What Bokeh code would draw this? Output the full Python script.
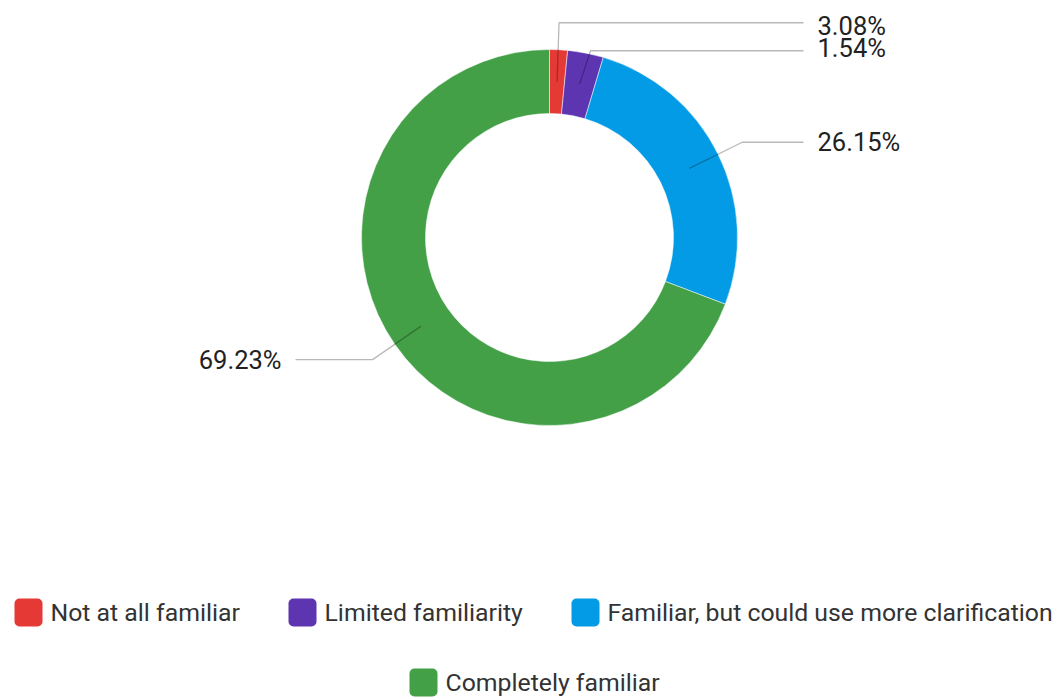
import math
from bokeh.plotting import figure
from bokeh.models import Range1d
from bokeh.core.properties import value
from bokeh.embed import file_html
from bokeh.resources import INLINE

categories = ["Not at all familiar", "Limited familiarity",
              "Familiar, but could use more clarification", "Completely familiar"]
percents = [1.54, 3.08, 26.15, 69.23]
colors = ["#e53935", "#5e35b1", "#039be5", "#43a047"]
# the reference draws the two small labels crossed: row of slice i shows value of slice label_src[i]
label_src = [1, 0, 2, 3]

W, H = 1057, 698
CX, CY = 549, 237          # centre in pixel coords (y down)
R_OUT, R_IN = 188, 124
R_MID, R_ELB = 156, 215
X_RIGHT, X_LEFT = 803, 295
FONT = "Roboto"
FS_LAB = "25.5px"
FS_LEG = "24.8px"

def Y(py):
    return H - py

p = figure(width=W, height=H, x_range=Range1d(0, W), y_range=Range1d(0, H),
           min_border=0, outline_line_color=None, toolbar_location=None,
           output_backend="svg", background_fill_color="white")
p.axis.visible = False
p.grid.visible = False

total = sum(percents)
cum = 0.0
starts, ends, mids = [], [], []
for v in percents:
    a0 = math.pi / 2 - 2 * math.pi * cum / total
    cum += v
    a1 = math.pi / 2 - 2 * math.pi * cum / total
    starts.append(a0)
    ends.append(a1)
    mids.append((a0 + a1) / 2)

p.annular_wedge(x=[CX] * 4, y=[Y(CY)] * 4, inner_radius=R_IN, outer_radius=R_OUT,
                start_angle=starts, end_angle=ends, direction="clock",
                fill_color=colors, line_color="white", line_width=0.5)

# leader lines
rows = []
for m in mids:
    ex = CX + R_ELB * math.cos(m)
    ey = Y(CY) + R_ELB * math.sin(m)
    rows.append([ex, ey])
# collision avoidance on right side (top-down)
right = [i for i in range(4) if math.cos(mids[i]) >= 0]
right.sort(key=lambda i: -rows[i][1])
for k in range(1, len(right)):
    prev, cur = right[k - 1], right[k]
    if rows[prev][1] - rows[cur][1] < 28:
        rows[cur][1] = rows[prev][1] - 28

xs, ys, tx, ty, tt, ta = [], [], [], [], [], []
for i, m in enumerate(mids):
    sx = CX + R_MID * math.cos(m)
    sy = Y(CY) + R_MID * math.sin(m)
    ex, ey = rows[i]
    if i == 1:
        ex = CX + 41
    if i == 0:
        ex = sx + 2
    right_side = math.cos(m) >= 0
    hx = X_RIGHT if right_side else X_LEFT
    xs.append([sx, ex, hx])
    ys.append([sy, ey, ey])
    tx.append(hx + 14 if right_side else hx - 14)
    ty.append(ey)
    tt.append(f"{percents[label_src[i]]:.2f}%")
    ta.append("left" if right_side else "right")
ty[0] -= 3
ty[1] += 3

p.multi_line(xs=xs, ys=ys, line_color="black", line_alpha=0.28, line_width=1.3)
p.text(x=tx, y=ty, text=tt, text_align=ta, text_baseline="middle",
       text_font=value(FONT), text_font_size=FS_LAB, text_color="#222222")

# legend (manual, centred rows)
leg_box_x = [28, 302, 585, 423]
leg_y = [612, 612, 612, 682]
p.rect(x=leg_box_x, y=[Y(v) for v in leg_y], width=28, height=28,
       fill_color=colors, line_color=None, border_radius=5)
p.text(x=[x + 22 for x in leg_box_x], y=[Y(v) for v in leg_y], text=categories,
       text_align="left", text_baseline="middle",
       text_font=value(FONT), text_font_size=FS_LEG, text_color="#333333")

open("out.html", "w").write(file_html(p, INLINE))
